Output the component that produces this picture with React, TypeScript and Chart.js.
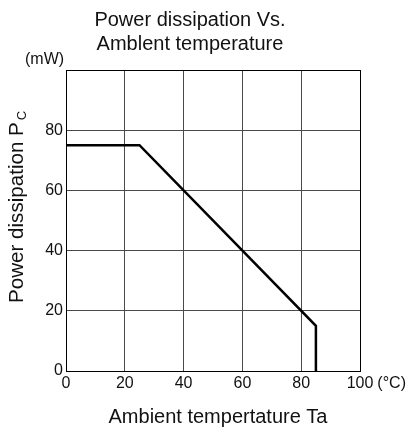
import React, { useEffect, useRef } from "react";
import { Chart, registerables } from "chart.js";

Chart.register(...registerables);

const tempC = [0, 25, 85, 85];
const powerMW = [75, 75, 15, 0];
const xTicks = [0, 20, 40, 60, 80, 100];
const yTicks = [0, 20, 40, 60, 80, 100];
const titleLines = ["Power dissipation Vs.", "Amblent temperature"];
const yUnit = "(mW)";
const yTitleMain = "Power dissipation P";
const yTitleSub = "C";
const xUnit = "(°C)";
const xTitle = "Ambient tempertature Ta";

const FONT = "'Liberation Sans', Arial, Helvetica, sans-serif";

const textPlugin = {
  id: "texts",
  afterDraw(chart: any) {
    const ctx = chart.ctx;
    const xs = chart.scales.x;
    ctx.save();
    ctx.fillStyle = "#111";
    ctx.textBaseline = "alphabetic";
    // title
    ctx.font = `20px ${FONT}`;
    ctx.textAlign = "center";
    ctx.fillText(titleLines[0], 190, 26);
    ctx.fillText(titleLines[1], 190, 50);
    // unit
    ctx.font = `16px ${FONT}`;
    ctx.textAlign = "left";
    ctx.fillText(yUnit, 25, 64);
    // x unit after last tick
    const px = xs.getPixelForValue(100);
    ctx.font = `16px ${FONT}`;
    const w100 = ctx.measureText("100").width;
    ctx.fillText(xUnit, px + w100 / 2 + 4, 388);
    // x title
    ctx.font = `20px ${FONT}`;
    ctx.textAlign = "center";
    ctx.fillText(xTitle, 218, 423);
    // y title rotated
    ctx.translate(23, 303);
    ctx.rotate(-Math.PI / 2);
    ctx.textAlign = "left";
    ctx.font = `20.6px ${FONT}`;
    ctx.fillText(yTitleMain, 0, 0);
    const wm = ctx.measureText(yTitleMain).width;
    ctx.font = `13px ${FONT}`;
    ctx.fillText(yTitleSub, wm + 2, 3);
    ctx.restore();
  },
};

export default function App() {
  const ref = useRef<HTMLCanvasElement>(null);
  useEffect(() => {
    document.body.style.margin = "0";
    const gridColor = (c: any) =>
      c.tick && (c.tick.value === 0 || c.tick.value === 100) ? "#000" : "#4a4a4a";
    const chart = new Chart(ref.current!, {
      type: "line",
      data: {
        datasets: [
          {
            data: tempC.map((x, i) => ({ x, y: powerMW[i] })),
            borderColor: "#000",
            borderWidth: 2.5,
            pointRadius: 0,
            tension: 0,
            fill: false,
          },
        ],
      },
      options: {
        responsive: false,
        animation: false,
        layout: { padding: { left: 0, top: 70, right: 50, bottom: 0 } },
        plugins: { legend: { display: false }, tooltip: { enabled: false }, title: { display: false } },
        scales: {
          x: {
            type: "linear",
            min: 0,
            max: 100,
            afterBuildTicks: (s: any) => {
              s.ticks = xTicks.map((v) => ({ value: v }));
            },
            afterFit: (s: any) => {
              s.height = 61;
            },
            grid: { color: gridColor, lineWidth: 1, drawTicks: false },
            border: { color: "#000", width: 1 },
            ticks: {
              color: "#111",
              font: { family: FONT, size: 16 },
              padding: 3,
              maxRotation: 0,
              autoSkip: false,
            },
          },
          y: {
            type: "linear",
            min: 0,
            max: 100,
            afterBuildTicks: (s: any) => {
              s.ticks = yTicks.map((v) => ({ value: v }));
            },
            afterFit: (s: any) => {
              s.width = 66;
            },
            grid: { color: gridColor, lineWidth: 1, drawTicks: false },
            border: { color: "#000", width: 1 },
            ticks: {
              color: "#111",
              font: { family: FONT, size: 16 },
              padding: 3,
              autoSkip: false,
              callback: (v: any) => (v === 100 ? "" : String(v)),
            },
          },
        },
      },
      plugins: [textPlugin],
    });
    return () => chart.destroy();
  }, []);
  return (
    <div style={{ width: 410, height: 432 }}>
      <canvas ref={ref} width={410} height={432} style={{ display: "block", width: 410, height: 432 }} />
    </div>
  );
}
